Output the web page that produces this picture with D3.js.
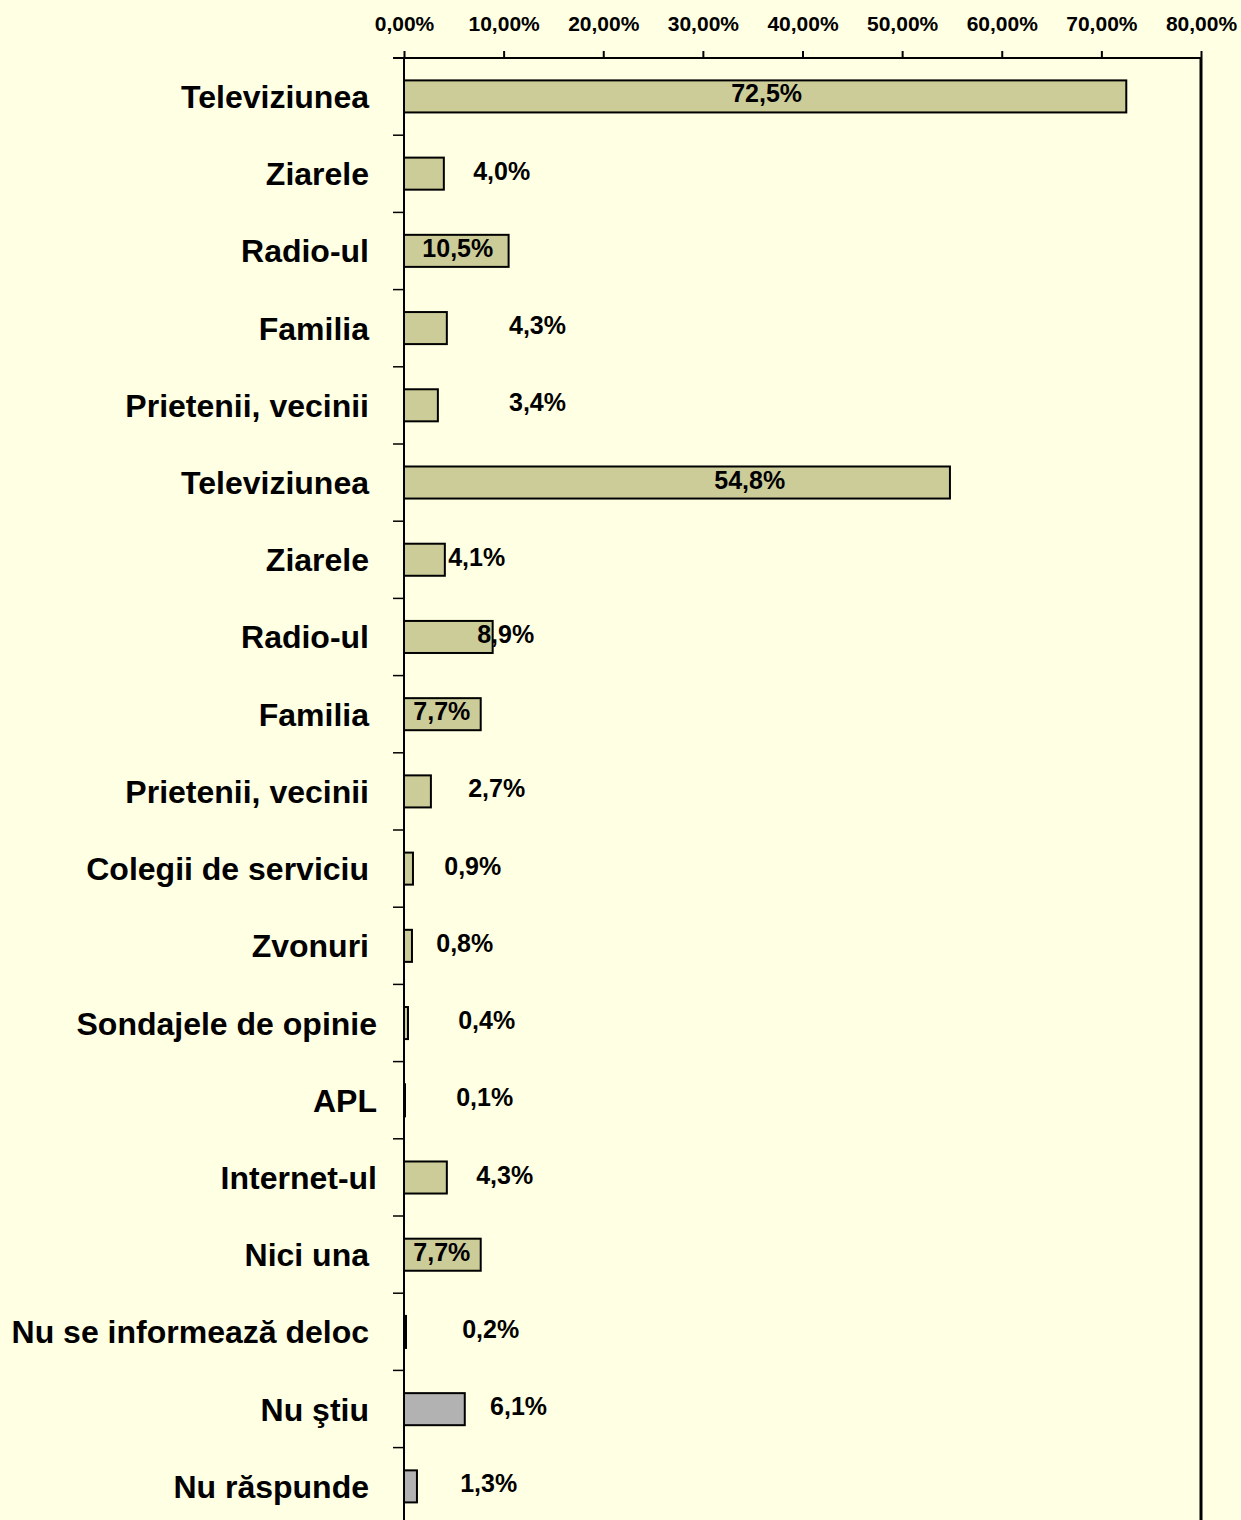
<html>
<head>
    <meta charset="utf-8">
    <title>Surse de informare</title>
    <script src="https://d3js.org/d3.v7.min.js" charset="utf-8"></script>
    <style>
        body {
            margin: 0;
            background: #FFFFE3;
            font-family: "Liberation Sans", Arial, sans-serif;
        }
        svg text {
            font-weight: bold;
            fill: #000;
        }
    </style>
</head>
<body>
    <script>
    // categories, top to bottom
    var categories = [
        "Televiziunea", "Ziarele", "Radio-ul", "Familia", "Prietenii, vecinii",
        "Televiziunea", "Ziarele", "Radio-ul", "Familia", "Prietenii, vecinii",
        "Colegii de serviciu", "Zvonuri", "Sondajele de opinie", "APL",
        "Internet-ul", "Nici una", "Nu se informează deloc", "Nu ştiu", "Nu răspunde"
    ];
    var values = [72.5, 4.0, 10.5, 4.3, 3.4, 54.8, 4.1, 8.9, 7.7, 2.7,
                  0.9, 0.8, 0.4, 0.1, 4.3, 7.7, 0.2, 6.1, 1.3];
    var valueLabels = ["72,5%", "4,0%", "10,5%", "4,3%", "3,4%", "54,8%", "4,1%", "8,9%", "7,7%", "2,7%",
                       "0,9%", "0,8%", "0,4%", "0,1%", "4,3%", "7,7%", "0,2%", "6,1%", "1,3%"];
    // last two answers are drawn grey
    var greyRows = [17, 18];
    var tickValues = [0, 10, 20, 30, 40, 50, 60, 70, 80];
    var tickLabels = ["0,00%", "10,00%", "20,00%", "30,00%", "40,00%", "50,00%", "60,00%", "70,00%", "80,00%"];

    // where each data label sits (centre, in % units) - as in the original sheet
    var labelAt = [36.4, 9.8, 5.4, 13.4, 13.4, 34.7, 7.3, 10.2, 3.8, 9.3,
                   6.9, 6.1, 8.3, 8.1, 10.1, 3.8, 8.7, 11.5, 8.5];
    // these category labels are shifted a little to the right
    var shiftedLabels = [12, 13, 14];

    var width = 1241;
    var height = 1520;
    var plotLeft = 404, plotRight = 1201, plotTop = 58;
    var rowH = 77.2;

    var svg = d3.select("body")
        .append("svg")
        .attr("width", width)
        .attr("height", height);

    var x = d3.scaleLinear()
        .domain([0, 80])
        .range([plotLeft, plotRight]);

    var idx = d3.range(categories.length);
    var y = d3.scaleBand()
        .domain(idx)
        .range([plotTop, plotTop + rowH * categories.length])
        .paddingInner(0.585)
        .paddingOuter(0.29);

    // bars
    svg.append("g")
        .selectAll("rect")
        .data(idx)
        .enter()
        .append("rect")
        .attr("x", x(0))
        .attr("y", function(i) { return y(i); })
        .attr("width", function(i) { return x(values[i]) - x(0); })
        .attr("height", y.bandwidth())
        .attr("fill", function(i) { return greyRows.indexOf(i) >= 0 ? "#B2B2B2" : "#CCCC99"; })
        .attr("stroke", "#000")
        .attr("stroke-width", 2);

    // top axis
    var xAxis = d3.axisTop(x)
        .tickValues(tickValues)
        .tickSize(7)
        .tickFormat(function(d, i) { return tickLabels[i]; });

    var gx = svg.append("g")
        .attr("transform", "translate(0," + plotTop + ")")
        .call(xAxis);
    gx.select(".domain").remove();
    gx.selectAll(".tick line").attr("stroke", "#000").attr("stroke-width", 2);
    gx.selectAll(".tick text")
        .attr("y", -27)
        .attr("dy", 0)
        .style("font-size", "21px")
        .style("font-family", "'Liberation Sans', Arial, sans-serif");

    svg.append("line")
        .attr("x1", plotLeft - 11).attr("x2", plotRight)
        .attr("y1", plotTop).attr("y2", plotTop)
        .attr("stroke", "#000").attr("stroke-width", 2);

    // right border of the plot
    svg.append("line")
        .attr("x1", plotRight).attr("x2", plotRight)
        .attr("y1", plotTop).attr("y2", height)
        .attr("stroke", "#000").attr("stroke-width", 3);

    // left axis with ticks between categories
    svg.append("line")
        .attr("x1", plotLeft).attr("x2", plotLeft)
        .attr("y1", plotTop).attr("y2", height)
        .attr("stroke", "#000").attr("stroke-width", 2);

    svg.append("g")
        .selectAll("line")
        .data(d3.range(1, categories.length))
        .enter()
        .append("line")
        .attr("x1", plotLeft - 11).attr("x2", plotLeft)
        .attr("y1", function(i) { return plotTop + i * rowH; })
        .attr("y2", function(i) { return plotTop + i * rowH; })
        .attr("stroke", "#000").attr("stroke-width", 1.5);

    // category labels
    svg.append("g")
        .selectAll("text")
        .data(idx)
        .enter()
        .append("text")
        .attr("x", function(i) { return shiftedLabels.indexOf(i) >= 0 ? 377 : 369; })
        .attr("y", function(i) { return y(i) + y.bandwidth() / 2; })
        .attr("dy", "0.36em")
        .attr("text-anchor", "end")
        .style("font-size", "32px")
        .text(function(i) { return categories[i]; });

    // value labels
    svg.append("g")
        .selectAll("text")
        .data(idx)
        .enter()
        .append("text")
        .attr("x", function(i) { return x(labelAt[i]); })
        .attr("y", function(i) { return y(i) + y.bandwidth() / 2 - 3; })
        .attr("dy", "0.36em")
        .attr("text-anchor", "middle")
        .style("font-size", "25px")
        .text(function(i) { return valueLabels[i]; });
    </script>
</body>
</html>
